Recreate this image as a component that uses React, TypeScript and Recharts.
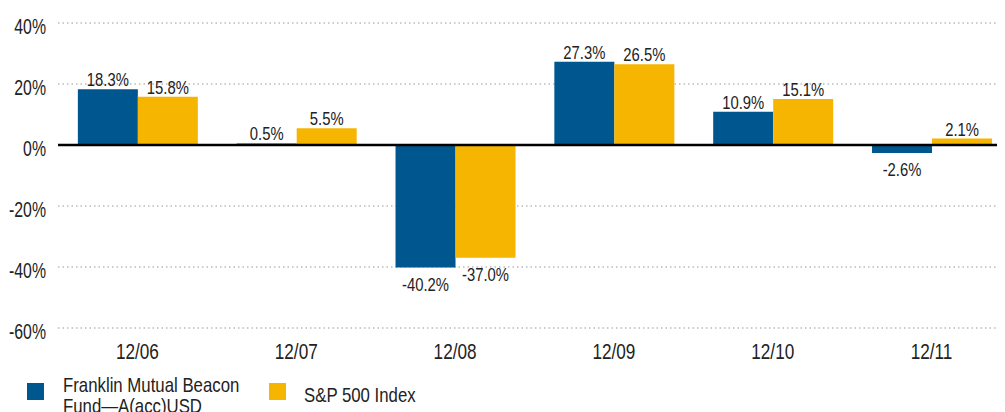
import React from "react";
import { BarChart, Bar, XAxis, YAxis, CartesianGrid, ReferenceLine, Legend, LabelList } from "recharts";

const categories = ["12/06", "12/07", "12/08", "12/09", "12/10", "12/11"];
const fundValues = [18.3, 0.5, -40.2, 27.3, 10.9, -2.6];
const spValues = [15.8, 5.5, -37.0, 26.5, 15.1, 2.1];
const yTicks = [-60, -40, -20, 0, 20, 40];
const fundLegendLines = ["Franklin Mutual Beacon", "Fund—A(acc)USD"];
const fundName = "Franklin Mutual Beacon Fund—A(acc)USD";
const spName = "S&P 500 Index";

const NAVY = "#00568F";
const GOLD = "#F6B500";
const FONT = "'Liberation Sans', Arial, sans-serif";
const TEXT = "#222";

const data = categories.map((c, i) => ({ cat: c, fund: fundValues[i], sp: spValues[i] }));

const CText = ({ x, y, anchor, size, sx, children }: any) => (
  <text
    transform={`translate(${x},${y}) scale(${sx},1)`}
    x={0}
    y={0}
    textAnchor={anchor}
    fontFamily={FONT}
    fontSize={size}
    fill={TEXT}
  >
    {children}
  </text>
);

const renderLabel = (props: any) => {
  const { x, y, width, height, value } = props;
  const top = Math.min(y, y + height);
  const bottom = Math.max(y, y + height);
  const cx = x + width / 2;
  const neg = value < 0;
  return (
    <CText x={cx} y={neg ? bottom + 23 : top - 3} anchor="middle" size={19} sx={0.78}>
      {`${value.toFixed(1)}%`}
    </CText>
  );
};

const XTick = (props: any) => {
  const { x, y, payload } = props;
  return (
    <CText x={x} y={y + 23} anchor="middle" size={22} sx={0.78}>
      {payload.value}
    </CText>
  );
};

const YTick = (props: any) => {
  const { x, y, payload } = props;
  return (
    <CText x={x} y={y + 10.5} anchor="end" size={22} sx={0.72}>
      {`${payload.value}%`}
    </CText>
  );
};

const LegendContent = () => (
  <svg width={1005} height={54} style={{ display: "block" }}>
    <rect x={27} y={25} width={17} height={17} fill={NAVY} />
    <CText x={63} y={34} anchor="start" size={20} sx={0.84}>
      {fundLegendLines[0]}
    </CText>
    <CText x={63} y={55} anchor="start" size={20} sx={0.84}>
      {fundLegendLines[1]}
    </CText>
    <rect x={269} y={25} width={17} height={17} fill={GOLD} />
    <CText x={304} y={44} anchor="start" size={20} sx={0.84}>
      {spName}
    </CText>
  </svg>
);

export default function App() {
  return (
    <div style={{ margin: "-8px 0 0 -8px", width: 1005, height: 412, background: "#fff", overflow: "hidden" }}>
      <BarChart
        width={1011}
        height={412}
        data={data}
        margin={{ top: 23, right: 0, left: 0, bottom: 0 }}
        barGap={0}
        barCategoryGap="12.5%"
      >
        <CartesianGrid vertical={false} stroke="#999" strokeDasharray="1.5 3" strokeWidth={1.2} />
        <XAxis dataKey="cat" axisLine={false} tickLine={false} height={30} tick={<XTick />} />
        <YAxis
          domain={[-60, 40]}
          ticks={yTicks}
          axisLine={false}
          tickLine={false}
          width={58}
          tickMargin={6}
          tick={<YTick />}
        />
        <Legend verticalAlign="bottom" align="left" height={54} content={<LegendContent />} />
        <Bar dataKey="fund" name={fundName} fill={NAVY} isAnimationActive={false}>
          <LabelList dataKey="fund" content={renderLabel} />
        </Bar>
        <Bar dataKey="sp" name={spName} fill={GOLD} isAnimationActive={false}>
          <LabelList dataKey="sp" content={renderLabel} />
        </Bar>
        <ReferenceLine y={0} stroke="#000" strokeWidth={2.5} />
      </BarChart>
    </div>
  );
}
